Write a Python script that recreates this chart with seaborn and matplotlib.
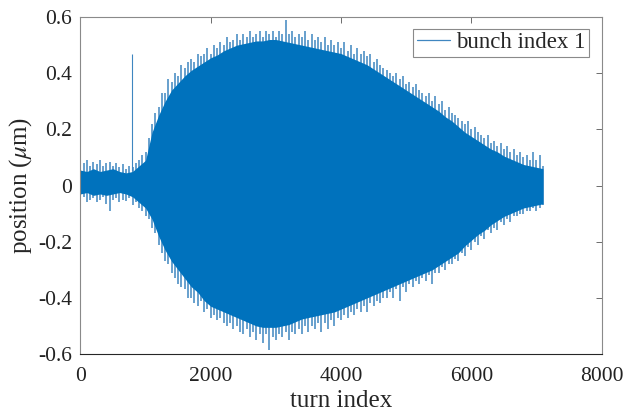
import numpy as np
import pandas as pd
import matplotlib
matplotlib.use("Agg")
import matplotlib.pyplot as plt
from matplotlib.lines import Line2D
import seaborn as sns

# ---------------- data ----------------
# dense body of the oscillation, every 100 turns (0 .. 7100)
body_step = 100
body_upper = [0.055, 0.05, 0.06, 0.05, 0.055, 0.06, 0.05, 0.045, 0.05, 0.07,
              0.09, 0.19, 0.25, 0.30, 0.34, 0.365, 0.39, 0.41, 0.425, 0.44,
              0.455, 0.465, 0.48, 0.49, 0.50, 0.505, 0.51, 0.515, 0.515, 0.52,
              0.52, 0.515, 0.51, 0.505, 0.50, 0.495, 0.49, 0.485, 0.48, 0.475,
              0.47, 0.46, 0.45, 0.44, 0.43, 0.415, 0.40, 0.385, 0.37, 0.355,
              0.34, 0.325, 0.31, 0.295, 0.28, 0.265, 0.245, 0.23, 0.21, 0.19,
              0.175, 0.16, 0.145, 0.13, 0.12, 0.105, 0.095, 0.085, 0.075, 0.07,
              0.065, 0.06]
body_lower = [-0.03, -0.025, -0.035, -0.03, -0.035, -0.03, -0.025, -0.03, -0.04, -0.06,
              -0.08, -0.12, -0.18, -0.23, -0.27, -0.30, -0.33, -0.36, -0.38, -0.41,
              -0.43, -0.44, -0.45, -0.46, -0.47, -0.48, -0.49, -0.50, -0.505, -0.505,
              -0.505, -0.50, -0.495, -0.485, -0.475, -0.47, -0.465, -0.46, -0.455, -0.45,
              -0.44, -0.43, -0.42, -0.41, -0.40, -0.39, -0.38, -0.37, -0.36, -0.35,
              -0.34, -0.33, -0.32, -0.31, -0.30, -0.285, -0.27, -0.255, -0.24, -0.215,
              -0.195, -0.175, -0.16, -0.14, -0.125, -0.11, -0.10, -0.09, -0.08, -0.075,
              -0.07, -0.065]

# spike tips beyond the dense body, every 50 turns (0 .. 7100)
tip_step = 50
tip_upper = [0.10, 0.08, 0.09, 0.07, 0.085, 0.075, 0.09, 0.07, 0.08, 0.085,
             0.07, 0.08, 0.065, 0.075, 0.06, 0.07, 0.065, 0.08, 0.09, 0.11,
             0.12, 0.17, 0.22, 0.26, 0.28, 0.33, 0.33, 0.38, 0.37, 0.40,
             0.39, 0.43, 0.42, 0.44, 0.45, 0.44, 0.47, 0.46, 0.47, 0.49,
             0.47, 0.50, 0.49, 0.51, 0.50, 0.53, 0.51, 0.52, 0.54, 0.52,
             0.54, 0.53, 0.55, 0.53, 0.54, 0.55, 0.53, 0.55, 0.54, 0.55,
             0.53, 0.55, 0.54, 0.59, 0.54, 0.55, 0.53, 0.54, 0.53, 0.55,
             0.52, 0.54, 0.52, 0.53, 0.51, 0.53, 0.50, 0.52, 0.50, 0.51,
             0.49, 0.51, 0.48, 0.50, 0.47, 0.49, 0.47, 0.48, 0.46, 0.47,
             0.44, 0.45, 0.43, 0.42, 0.41, 0.40, 0.39, 0.40, 0.38, 0.39,
             0.36, 0.37, 0.35, 0.36, 0.34, 0.33, 0.32, 0.33, 0.30, 0.32,
             0.29, 0.30, 0.27, 0.28, 0.26, 0.25, 0.24, 0.23, 0.22, 0.23,
             0.20, 0.21, 0.19, 0.18, 0.17, 0.18, 0.15, 0.16, 0.14, 0.15,
             0.13, 0.14, 0.12, 0.13, 0.11, 0.12, 0.10, 0.11, 0.09, 0.12,
             0.09, 0.11, 0.07]
tip_lower = [-0.05, -0.04, -0.06, -0.05, -0.045, -0.06, -0.05, -0.04, -0.065, -0.09,
             -0.05, -0.045, -0.06, -0.05, -0.055, -0.045, -0.07, -0.06, -0.08, -0.09,
             -0.11, -0.12, -0.15, -0.17, -0.21, -0.24, -0.27, -0.28, -0.31, -0.33,
             -0.35, -0.36, -0.37, -0.40, -0.40, -0.42, -0.43, -0.41, -0.45, -0.44,
             -0.47, -0.46, -0.48, -0.47, -0.49, -0.50, -0.49, -0.51, -0.50, -0.52,
             -0.53, -0.51, -0.54, -0.52, -0.55, -0.53, -0.56, -0.53, -0.585, -0.54,
             -0.55, -0.53, -0.54, -0.52, -0.55, -0.52, -0.53, -0.51, -0.53, -0.50,
             -0.52, -0.50, -0.51, -0.49, -0.52, -0.49, -0.51, -0.48, -0.50, -0.47,
             -0.48, -0.46, -0.47, -0.45, -0.46, -0.44, -0.45, -0.43, -0.45, -0.42,
             -0.43, -0.41, -0.42, -0.40, -0.40, -0.38, -0.40, -0.37, -0.41, -0.36,
             -0.38, -0.35, -0.36, -0.34, -0.35, -0.33, -0.34, -0.32, -0.35, -0.31,
             -0.31, -0.29, -0.30, -0.28, -0.28, -0.26, -0.27, -0.24, -0.25, -0.22,
             -0.23, -0.20, -0.21, -0.18, -0.19, -0.16, -0.17, -0.15, -0.16, -0.13,
             -0.14, -0.12, -0.13, -0.11, -0.11, -0.10, -0.10, -0.09, -0.09, -0.08,
             -0.09, -0.08, -0.07]

# isolated single-turn spike
spike_turn = [790]
spike_base = [0.05]
spike_top = [0.47]

x_ticks = [0, 2000, 4000, 6000, 8000]
x_tick_labels = ["0", "2000", "4000", "6000", "8000"]
y_ticks = [-0.6, -0.4, -0.2, 0, 0.2, 0.4, 0.6]
y_tick_labels = ["-0.6", "-0.4", "-0.2", "0", "0.2", "0.4", "0.6"]
legend_label = "bunch index 1"
x_label = "turn index"
y_label = r"position ($\mu$m)"

# ---------------- style ----------------
sns.set_theme(style="white")
plt.rcParams["font.family"] = ["Liberation Serif", "DejaVu Serif"]
plt.rcParams["mathtext.fontset"] = "stix"
plt.rcParams["axes.unicode_minus"] = False

blue = "#0072BD"
tip_color = "#3f86c0"

fig = plt.figure(figsize=(6.28, 4.16), dpi=100)
ax = fig.add_axes([0.128, 0.149, 0.830, 0.810])

body_turns = [i * body_step for i in range(len(body_upper))]
tip_turns = [i * tip_step for i in range(len(tip_upper))]

# single-turn spikes reaching beyond the dense body
ax.vlines(tip_turns, 0, tip_upper, color=tip_color, linewidth=1.1, zorder=1)
ax.vlines(tip_turns, 0, tip_lower, color=tip_color, linewidth=1.1, zorder=1)
ax.vlines(spike_turn, spike_base, spike_top, color=tip_color, linewidth=0.8, zorder=1)

# dense body as a min-max band with seaborn
df = pd.DataFrame({
    "turn": body_turns + body_turns,
    "position": body_upper + body_lower,
})
sns.lineplot(data=df, x="turn", y="position", estimator="mean",
             errorbar=("pi", 100), color=blue, linewidth=0,
             err_kws={"alpha": 1, "linewidth": 0}, ax=ax, legend=False, zorder=2)

ax.set_xlim(0, 8000)
ax.set_ylim(-0.6, 0.6)
ax.set_xticks(x_ticks)
ax.set_xticklabels(x_tick_labels)
ax.set_yticks(y_ticks)
ax.set_yticklabels(y_tick_labels)
ax.set_xlabel(x_label, fontsize=18, labelpad=3)
ax.set_ylabel(y_label, fontsize=18, labelpad=3)

ax.tick_params(axis="both", direction="in", length=4, width=0.6,
               colors="#555555", labelcolor="#222222", labelsize=15.5,
               top=True, right=True)
ax.tick_params(axis="x", pad=9)
ax.tick_params(axis="y", pad=6)
for name, sp in ax.spines.items():
    sp.set_visible(True)
    sp.set_linewidth(0.8)
    sp.set_color("#8a8a8a")
ax.spines["bottom"].set_color("#262626")

handle = Line2D([0], [0], color=tip_color, linewidth=0.9)
leg = ax.legend([handle], [legend_label], loc="upper right",
                bbox_to_anchor=(0.975, 0.965), borderaxespad=0,
                fontsize=16.5, frameon=True, fancybox=False,
                handlelength=1.45, handletextpad=0.25, borderpad=0.15)
leg.get_frame().set_edgecolor("#8a8a8a")
leg.get_frame().set_linewidth(0.8)
leg.get_frame().set_facecolor("white")
leg.get_frame().set_alpha(1)

fig.savefig("out.png", dpi=100)
